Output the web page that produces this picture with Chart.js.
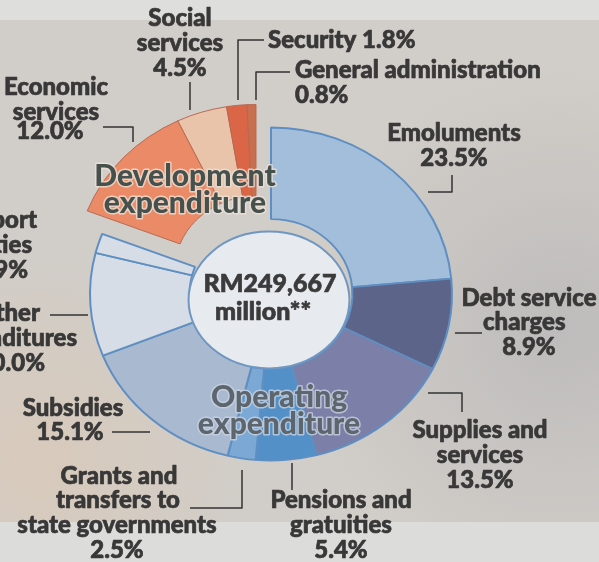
<!DOCTYPE html>
<html>
<head>
<meta charset="utf-8">
<script src="https://cdn.jsdelivr.net/npm/chart.js@4"></script>
<style>
  html, body { margin: 0; padding: 0; background: #d3d0cc; }
  canvas { display: block; }
</style>
</head>
<body>
<canvas id="budgetChart" width="599" height="562"></canvas>
<script>
// budget shares, clockwise from 12 o'clock
const categories = ['Emoluments', 'Debt service charges', 'Supplies and services', 'Pensions and gratuities',
    'Grants and transfers to state governments', 'Subsidies', 'Other expenditures', 'Support facilities',
    'Economic services', 'Social services', 'Security', 'General administration'];
const shares = [23.5, 8.9, 13.5, 5.4, 2.5, 15.1, 10.0, 1.9, 12.0, 4.5, 1.8, 0.8];
const groups = ['Operating', 'Operating', 'Operating', 'Operating', 'Operating', 'Operating', 'Operating', 'Operating',
    'Development', 'Development', 'Development', 'Development'];
const totalText = ['RM249,667', 'million**'];

const sliceColors = ['#a3bedb', '#5d6489', '#7c7fa7', '#5390c8', '#7ba8d5', '#a9b9d0', '#d6dde7', '#d6dde7',
    '#ea8a66', '#e9c3aa', '#db6547', '#c86f4e'];

const FONT = '"Lato", "Liberation Sans", sans-serif';

// label text blocks: [lines, x, y, align]
const labelBlocks = [
    [['Emoluments', shares[0].toFixed(1) + '%'], 454, 133, 'center'],
    [['Debt service'], 529, 298, 'center'],
    [['charges'], 483, 322, 'left'],
    [[shares[1].toFixed(1) + '%'], 529, 347, 'center'],
    [['Supplies and', 'services', shares[2].toFixed(1) + '%'], 480, 430, 'center'],
    [['Pensions and', 'gratuities', shares[3].toFixed(1) + '%'], 341, 500, 'center'],
    [['Grants and'], 119, 476, 'center'],
    [['transfers to'], 118, 500, 'center'],
    [['state governments', shares[4].toFixed(1) + '%'], 117, 525, 'center'],
    [['Subsidies'], 73, 408, 'center'],
    [[shares[5].toFixed(1) + '%'], 70, 432, 'center'],
    [['Other'], 40, 313, 'right'],
    [['expenditures'], 77, 338, 'right'],
    [[shares[6].toFixed(1) + '%'], 45, 363, 'right'],
    [['Support'], 37, 220, 'right'],
    [['facilities'], 32, 245, 'right'],
    [[shares[7].toFixed(1) + '%'], 28, 270, 'right'],
    [['Economic', 'services'], 56, 87, 'center'],
    [[shares[8].toFixed(1) + '%'], 50, 131, 'center'],
    [['Social', 'services', shares[9].toFixed(1) + '%'], 180, 18, 'center'],
    [['Security ' + shares[10].toFixed(1) + '%'], 268, 40, 'left'],
    [['General administration', shares[11].toFixed(1) + '%'], 295, 70, 'left']
];

// leader lines
const leaders = [
    [[452, 175], [452, 192], [428, 192]],
    [[455, 333], [482, 333]],
    [[428, 393], [462, 393], [462, 412]],
    [[292, 463], [292, 490]],
    [[190, 508], [242, 508], [242, 470]],
    [[112, 432], [150, 432]],
    [[50, 315], [88, 315]],
    [[103, 127], [133, 127], [133, 142]],
    [[190, 82], [190, 110]],
    [[264, 40], [238, 40], [238, 100]],
    [[290, 72], [256, 72], [256, 100]]
];

const devShift = [-15, -23];
const squash = 0.92; // the printed ring is slightly flattened

const backdrop = {
    id: 'backdrop',
    beforeDraw(chart) {
        const ctx = chart.ctx;
        ctx.save();
        ctx.fillStyle = '#d1cdc8';
        ctx.fillRect(0, 0, 599, 562);
        let g = ctx.createRadialGradient(560, 330, 10, 560, 330, 260);
        g.addColorStop(0, 'rgba(175,175,178,0.55)');
        g.addColorStop(1, 'rgba(175,175,178,0)');
        ctx.fillStyle = g;
        ctx.fillRect(0, 0, 599, 562);
        g = ctx.createRadialGradient(40, 460, 10, 40, 460, 200);
        g.addColorStop(0, 'rgba(220,200,180,0.6)');
        g.addColorStop(1, 'rgba(220,200,180,0)');
        ctx.fillStyle = g;
        ctx.fillRect(0, 0, 599, 562);
        ctx.fillStyle = '#dededc';
        ctx.fillRect(0, 0, 599, 20);
        ctx.fillStyle = '#dcdcdb';
        ctx.fillRect(0, 522, 599, 40);
        ctx.restore();
    }
};

// draw the slices flattened, with the development block pulled out
const groupShift = {
    id: 'groupShift',
    beforeDatasetDraw(chart, args) {
        const ctx = chart.ctx;
        args.meta.data.forEach((arc, i) => {
            ctx.save();
            if (groups[i] === 'Development') ctx.translate(devShift[0], devShift[1]);
            ctx.translate(arc.x, arc.y);
            ctx.scale(1, squash);
            ctx.translate(-arc.x, -arc.y);
            arc.draw(ctx, chart.chartArea);
            ctx.restore();
        });
        return false;
    }
};

const annotations = {
    id: 'annotations',
    afterDatasetsDraw(chart) {
        const ctx = chart.ctx;
        const arc = chart.getDatasetMeta(0).data[0];
        ctx.save();
        // centre disc
        ctx.beginPath();
        ctx.ellipse(arc.x - 2, arc.y + 6, arc.innerRadius - 1, (arc.innerRadius - 1) * 0.85, 0, 0, Math.PI * 2);
        ctx.fillStyle = '#e7eaee';
        ctx.fill();
        ctx.lineWidth = 2;
        ctx.strokeStyle = '#6f97c2';
        ctx.stroke();

        ctx.textBaseline = 'middle';
        ctx.textAlign = 'center';
        ctx.font = '900 25px ' + FONT;
        ctx.fillStyle = '#3b3b3b';
        ctx.strokeStyle = '#3b3b3b';
        ctx.lineWidth = 0.7;
        [[totalText[0], 270, 284], [totalText[1], 263, 312]].forEach(([t, x, y]) => {
            ctx.fillText(t, x, y);
            ctx.strokeText(t, x, y);
        });

        // group titles
        ctx.font = '900 30px ' + FONT;
        ctx.lineJoin = 'round';
        ctx.lineWidth = 3;
        ctx.strokeStyle = 'rgba(235,225,215,0.8)';
        ctx.fillStyle = '#46504d';
        ['Development', 'expenditure'].forEach((t, k) => {
            ctx.strokeText(t, 185, 176 + k * 27);
            ctx.fillText(t, 185, 176 + k * 27);
        });
        ctx.strokeStyle = 'rgba(200,210,225,0.8)';
        ctx.fillStyle = '#5d666e';
        ['Operating', 'expenditure'].forEach((t, k) => {
            ctx.strokeText(t, 279, 397 + k * 27);
            ctx.fillText(t, 279, 397 + k * 27);
        });

        // leaders
        ctx.strokeStyle = '#333';
        ctx.lineWidth = 1.5;
        leaders.forEach(pts => {
            ctx.beginPath();
            pts.forEach((p, k) => k ? ctx.lineTo(p[0], p[1]) : ctx.moveTo(p[0], p[1]));
            ctx.stroke();
        });

        // labels
        ctx.font = '900 24px ' + FONT;
        ctx.fillStyle = '#383838';
        ctx.strokeStyle = '#383838';
        ctx.lineWidth = 0.7;
        labelBlocks.forEach(([lines, x, y, align]) => {
            ctx.textAlign = align;
            lines.forEach((t, k) => {
                ctx.fillText(t, x, y + k * 25);
                ctx.strokeText(t, x, y + k * 25);
            });
        });
        ctx.restore();
    }
};

new Chart(document.getElementById('budgetChart'), {
    type: 'doughnut',
    data: {
        labels: categories,
        datasets: [{
            data: shares,
            backgroundColor: sliceColors,
            borderColor: groups.map(g => g === 'Development' ? '#b5694f' : '#5f8fc2'),
            borderWidth: groups.map(g => g === 'Development' ? 1 : 2)
        }]
    },
    options: {
        responsive: false,
        animation: false,
        radius: 181,
        cutout: '45%',
        layout: { padding: { left: 0, right: 57, top: 26, bottom: 0 } },
        plugins: {
            legend: { display: false },
            tooltip: { enabled: false }
        }
    },
    plugins: [backdrop, groupShift, annotations]
});
</script>
</body>
</html>
